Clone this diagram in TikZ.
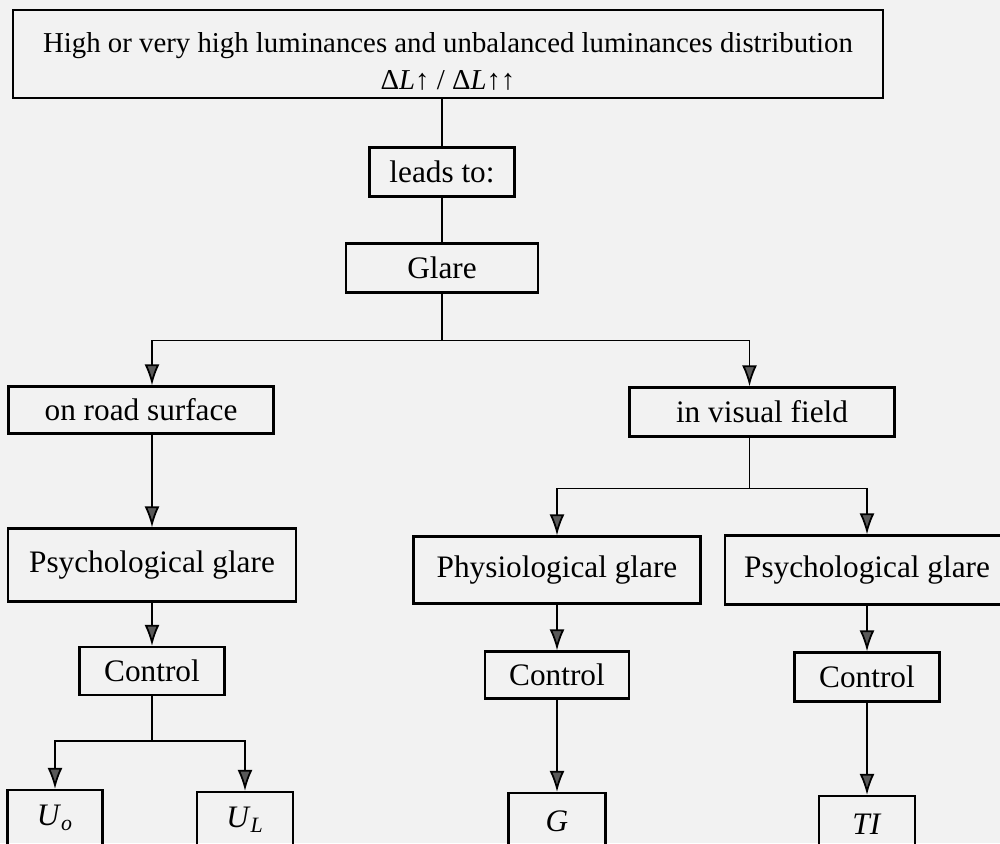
\documentclass[tikz,border=0pt]{standalone}
\usepackage{fontspec}
\setmainfont{Liberation Serif}
\usetikzlibrary{arrows.meta,positioning}
\tikzset{
	box/.style={draw, line width=1.2pt, inner sep=0pt, font=\fontsize{17.8pt}{20pt}\selectfont},
	wire/.style={line width=1pt},
	arr/.style={wire, -{Latex[length=12pt,width=8.5pt,fill=black!65]}},
}
\begin{document}
\begin{tikzpicture}[x=.02cm,y=-.02cm]
					\useasboundingbox (0,0) rectangle (1000,843);
					\fill [black!5] (0,0) rectangle (1000,843);
					\clip (0,0) rectangle (1000,843);
					\node[box,minimum width=17.42cm,minimum height=1.76cm,align=center,font=\fontsize{16.4pt}{21pt}\selectfont] (hi) at (448,54){\rule{0pt}{20pt}High or very high luminances and unbalanced luminances distribution\\Δ\textit{L}↑ / Δ\textit{L}↑↑};
					\node[box,minimum width=2.9cm,minimum height=.98cm] (lead) at (442,172){leads to:};
					\node[box,minimum width=3.84cm,minimum height=.98cm] (gl) at (442,268){Glare};
					\node[box,minimum width=5.3cm,minimum height=.94cm] (road) at (141,410){on road surface};
					\node[box,minimum width=5.3cm,minimum height=.98cm] (vis) at (762,412){in visual field};
					\node[box,minimum width=5.76cm,minimum height=1.46cm] (psyL) at (152,565){Psychological glare};
					\node[box,minimum width=5.74cm,minimum height=1.34cm] (phy) at (557,570){Physiological glare};
					\node[box,minimum width=5.68cm,minimum height=1.38cm] (psyR) at (867,570){Psychological glare};
					\node[box,minimum width=2.9cm,minimum height=.96cm] (ctlL) at (152,671){Control};
					\node[box,minimum width=2.88cm,minimum height=.94cm] (ctlM) at (557,675){Control};
					\node[box,minimum width=2.9cm,minimum height=.98cm] (ctlR) at (867,677){Control};
					\node[box,minimum width=1.9cm,minimum height=1.12cm] (Uo) at (55,818){\textit{U}\textsubscript{\textit{o}}};
					\node[box,minimum width=1.92cm,minimum height=1.12cm] (UL) at (245,820){\textit{U}\textsubscript{\textit{L}}};
					\node[box,minimum width=1.94cm,minimum height=1.12cm] (G) at (557,821){\textit{G}};
					\node[box,minimum width=1.92cm,minimum height=1.12cm] (TI) at (867,824){\textit{TI}};
					\draw [wire] (hi.south -| lead) -- (lead.north) (lead.south) -- (gl.north);
					\draw [wire] (gl.south) -- ++(0,47)coordinate (j1);
					\draw [arr] (j1) -| (road.north -| psyL);
					\draw [arr] (j1) -| ([xshift=-.25cm]vis.north);
					\draw [wire] ([xshift=-.25cm]vis.south) -- ++(0,51)coordinate (j2);
					\draw [arr] (j2) -| (phy.north);
					\draw [arr] (j2) -| (psyR.north);
					\draw [arr] (road.south -| psyL) -- (psyL.north);
					\draw [arr] (psyL.south) -- (ctlL.north);
					\draw [wire] (ctlL.south) -- ++(0,45)coordinate (j3);
					\draw [arr] (j3) -| (Uo.north);
					\draw [arr] (j3) -| (UL.north);
					\draw [arr] (phy.south) -- (ctlM.north);
					\draw [arr] (ctlM.south) -- (G.north);
					\draw [arr] (psyR.south) -- (ctlR.north);
					\draw [arr] (ctlR.south) -- (TI.north);
				\end{tikzpicture}
\end{document}
